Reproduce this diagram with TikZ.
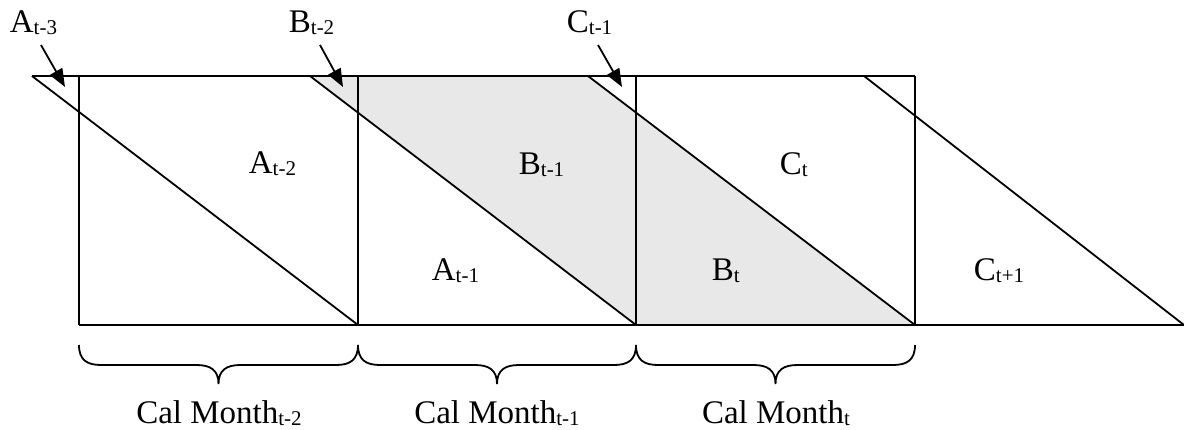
\documentclass[tikz,border=0pt]{standalone}
\usepackage{fontspec}
\setmainfont{Liberation Serif}
\usetikzlibrary{arrows.meta}
\definecolor{shadegray}{HTML}{E8E8E8}
\newcommand{\lblsub}[2]{#1\raisebox{-2pt}{\fontsize{21}{21}\selectfont #2}}
\newcommand{\bracepath}[2]{%
  \pgfmathsetmacro{\xm}{(#1+#2)/2}%
  \draw[brc] (#1,345) .. controls (#1,360) and (#1+8,365) .. (#1+22,365)
    -- (\xm-22,365) .. controls (\xm-8,365) and (\xm,370) .. (\xm,384)
    .. controls (\xm,370) and (\xm+8,365) .. (\xm+22,365)
    -- (#2-22,365) .. controls (#2-8,365) and (#2,360) .. (#2,345);}
\begin{document}
\begin{tikzpicture}[x=1pt,y=-1pt,line width=1.8pt,
  lab/.style={anchor=base west,inner sep=0pt,font=\fontsize{33}{33}\selectfont},
  mlab/.style={anchor=base,inner sep=0pt,font=\fontsize{33}{33}\selectfont},
  ptr/.style={-{Triangle[length=18pt,width=14pt]},line width=1.8pt},
  brc/.style={line width=1.8pt},
  edge/.style={line width=1.8pt}]
\useasboundingbox (0,0) rectangle (1184,429);
% shaded B parallelogram
\fill[shadegray] (310,76) -- (588,76) -- (915,325) -- (636,325) -- cycle;
% frame
\draw[edge] (32,76) -- (915,76);
\draw[edge] (79,325) -- (1184,325);
\foreach \x in {79,358,636,915} \draw[edge] (\x,76) -- (\x,325);
% diagonals
\draw[edge] (32,76) -- (358,325);
\draw[edge] (310,76) -- (636,325);
\draw[edge] (588,76) -- (915,325);
\draw[edge] (864,76) -- (1184,325);
% top labels and pointers
\node[lab] (at3) at (9,32) {\lblsub{A}{t-3}};
\node[lab] (bt2) at (288,32) {\lblsub{B}{t-2}};
\node[lab] (ct1) at (566,32) {\lblsub{C}{t-1}};
\coordinate (at3s) at (41,45);  \coordinate (at3e) at (65,87);
\coordinate (bt2s) at (320,45); \coordinate (bt2e) at (343,87);
\coordinate (ct1s) at (598,45); \coordinate (ct1e) at (622,87);
\draw[ptr] (at3s) -- (at3e);
\draw[ptr] (bt2s) -- (bt2e);
\draw[ptr] (ct1s) -- (ct1e);
% region labels
\node[lab] (at2) at (248,173) {\lblsub{A}{t-2}};
\node[lab] (bt1) at (518,174) {\lblsub{B}{t-1}};
\node[lab] (ct)  at (779,174) {\lblsub{C}{t}};
\node[lab] (at1) at (431,280) {\lblsub{A}{t-1}};
\node[lab] (bt)  at (711,280) {\lblsub{B}{t}};
\node[lab] (ctp) at (973,280) {\lblsub{C}{t+1}};
% braces
\bracepath{79}{358}
\bracepath{358}{636}
\bracepath{636}{915}
% month labels
\node[mlab] (m2) at (219,423) {\lblsub{Cal Month}{t-2}};
\node[mlab] (m1) at (497,423) {\lblsub{Cal Month}{t-1}};
\node[mlab] (m0) at (776,423) {\lblsub{Cal Month}{t}};
\end{tikzpicture}
\end{document}
